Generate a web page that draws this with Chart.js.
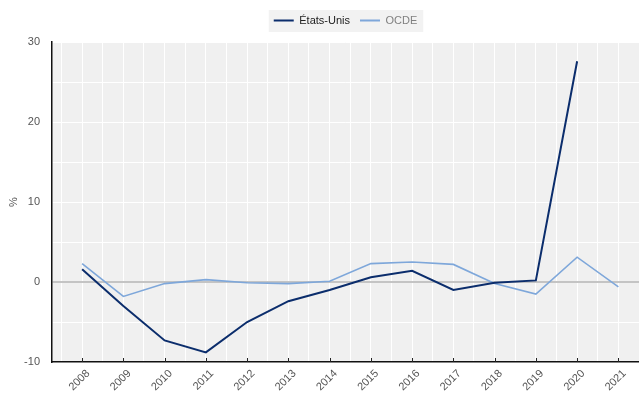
<!DOCTYPE html>
<html>
<head>
<meta charset="utf-8">
<script src="https://cdn.jsdelivr.net/npm/chart.js@4.4.1/dist/chart.umd.min.js"></script>
<style>
  html, body { margin: 0; padding: 0; background: #fff; }
  #wrap { width: 639px; height: 395px; position: relative; }
</style>
</head>
<body>
<div id="wrap"><canvas id="chart"></canvas></div>
<script>
// 1. Données
const annees = [2008, 2009, 2010, 2011, 2012, 2013, 2014, 2015, 2016, 2017, 2018, 2019, 2020, 2021];
const etatsUnis = [1.6, -3.0, -7.3, -8.8, -5.0, -2.4, -1.0, 0.6, 1.4, -1.0, -0.1, 0.2, 27.6, null];
const ocde = [2.3, -1.8, -0.2, 0.3, -0.1, -0.2, 0.1, 2.3, 2.5, 2.2, -0.2, -1.5, 3.1, -0.6];
const series = ['États-Unis', 'OCDE'];
const couleurs = ['#0b2d6c', '#7ea7da'];
const couleursLegende = ['#222222', '#808080'];
const yTicks = [-10, 0, 10, 20, 30];

const police = "'Liberation Sans Narrow', 'Arial Narrow', 'Liberation Sans', Arial, sans-serif";

function points(valeurs) {
    return annees.map((a, i) => ({ x: a, y: valeurs[i] })).filter(p => p.y !== null);
}

// 2. Plugins : fond gris de la zone, cadre de la légende, petits repères sur l'axe X
const fondPlugin = {
    id: 'fond',
    afterInit(chart) {
        // un peu d'espace sous la légende
        const fit = chart.legend.fit;
        chart.legend.fit = function () {
            fit.call(this);
            this.height += 6;
        };
    },
    beforeDraw(chart) {
        const { ctx, chartArea } = chart;
        ctx.save();
        ctx.fillStyle = '#f0f0f0';
        ctx.fillRect(chartArea.left, chartArea.top, chartArea.right - chartArea.left, chartArea.bottom - chartArea.top);
        const boxes = chart.legend.legendHitBoxes;
        if (boxes && boxes.length) {
            const left = Math.min(...boxes.map(b => b.left)) - 5;
            const right = Math.max(...boxes.map(b => b.left + b.width)) + 6;
            const top = Math.min(...boxes.map(b => b.top)) - 5;
            const bottom = Math.max(...boxes.map(b => b.top + b.height)) + 6;
            ctx.fillStyle = '#f2f2f2';
            ctx.fillRect(left, top, right - left, bottom - top);
        }
        ctx.restore();
    }
};

const reperesX = {
    id: 'reperesX',
    afterDraw(chart) {
        const { ctx } = chart;
        const x = chart.scales.x;
        ctx.save();
        ctx.strokeStyle = '#222';
        ctx.lineWidth = 1;
        annees.forEach(a => {
            const px = Math.round(x.getPixelForValue(a)) + 0.5;
            ctx.beginPath();
            ctx.moveTo(px, x.top - 4);
            ctx.lineTo(px, x.top);
            ctx.stroke();
        });
        ctx.restore();
    }
};

// 3. Graphique
const ctx = document.getElementById('chart').getContext('2d');
const chart = new Chart(ctx, {
    type: 'line',
    data: {
        datasets: [
            { label: series[0], data: points(etatsUnis), borderColor: couleurs[0], backgroundColor: couleurs[0], borderWidth: 2, pointRadius: 0, tension: 0 },
            { label: series[1], data: points(ocde), borderColor: couleurs[1], backgroundColor: couleurs[1], borderWidth: 1.6, pointRadius: 0, tension: 0 }
        ]
    },
    options: {
        responsive: true,
        maintainAspectRatio: false,
        animation: false,
        layout: { padding: { top: 5, right: 0, bottom: 0, left: 0 } },
        plugins: {
            tooltip: { enabled: false },
            legend: {
                position: 'top',
                fullSize: false,
                labels: {
                    boxWidth: 20,
                    boxHeight: 2,
                    padding: 10,
                    font: { family: police, size: 11 },
                    generateLabels: (c) => c.data.datasets.map((ds, i) => ({
                        text: ds.label,
                        fillStyle: ds.borderColor,
                        strokeStyle: ds.borderColor,
                        lineWidth: 0,
                        fontColor: couleursLegende[i],
                        hidden: false,
                        datasetIndex: i
                    }))
                }
            }
        },
        scales: {
            x: {
                type: 'linear',
                min: 2007.27,
                max: 2021.5,
                afterFit: (s) => { s.height = 33; s.paddingRight = 0; },
                border: { color: '#111', width: 1.5 },
                grid: { color: '#ffffff', lineWidth: 1, drawTicks: false },
                ticks: {
                    stepSize: 0.5,
                    includeBounds: false,
                    autoSkip: false,
                    minRotation: 45,
                    maxRotation: 45,
                    padding: 5,
                    labelOffset: 6,
                    color: '#555',
                    font: { family: police, size: 11 },
                    callback: (v) => Number.isInteger(v) && annees.includes(v) ? String(v) : ''
                }
            },
            y: {
                min: yTicks[0],
                max: yTicks[yTicks.length - 1],
                afterFit: (s) => { s.width = 52; },
                border: { color: '#111', width: 1.5 },
                grid: {
                    drawTicks: false,
                    color: (c) => c.tick && c.tick.value === 0 ? '#c4c4c4' : '#ffffff',
                    lineWidth: (c) => c.tick && c.tick.value === 0 ? 2 : 1
                },
                ticks: {
                    stepSize: 5,
                    padding: 12,
                    color: '#555',
                    font: { family: police, size: 11 },
                    callback: (v) => yTicks.includes(v) ? String(v) : ''
                },
                title: {
                    display: true,
                    text: '%',
                    color: '#555',
                    font: { family: police, size: 11 },
                    padding: { top: 7, bottom: 0 }
                }
            }
        }
    },
    plugins: [fondPlugin, reperesX]
});
</script>
</body>
</html>
